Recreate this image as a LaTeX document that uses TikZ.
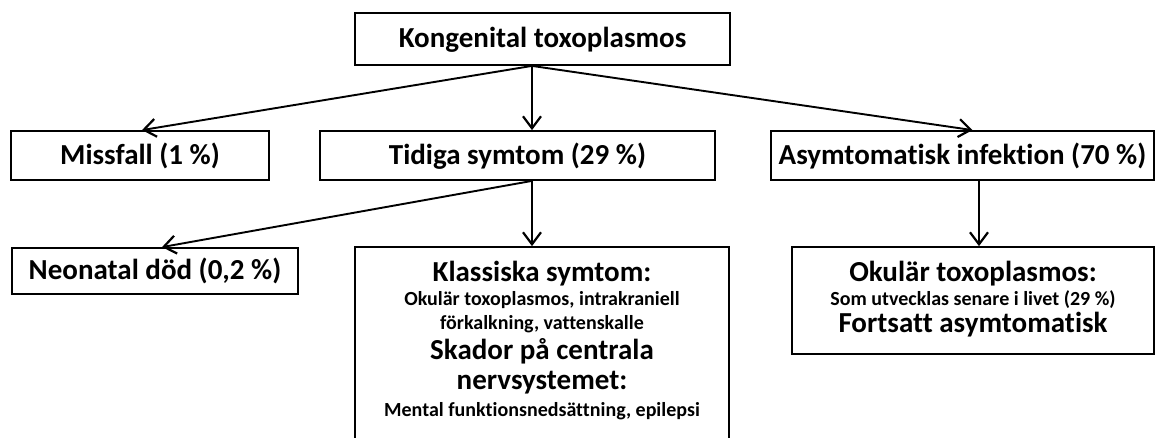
\documentclass[tikz,border=0pt]{standalone}
\usepackage{fontspec}
\setmainfont{Carlito}[Ligatures={NoCommon}]
\usetikzlibrary{arrows.meta}
\begin{document}
\begin{tikzpicture}[x=1pt,y=-1pt,
  box/.style={draw, line width=1.8pt, inner sep=0pt, text height=19pt, text depth=2pt,
    font=\bfseries\fontsize{29}{32}\selectfont},
  frame/.style={draw, line width=1.8pt, inner sep=0pt},
  big/.style={font=\bfseries\fontsize{29}{32}\selectfont, inner sep=0pt, anchor=base},
  small/.style={font=\bfseries\fontsize{20}{23}\selectfont, inner sep=0pt, anchor=base},
  arr/.style={line width=1.9pt, -{Straight Barb[length=12pt,width=18pt,line width=2.2pt]}}]
\useasboundingbox (0,0) rectangle (1158,437);
% boxes
\node[box, minimum width=375pt, minimum height=52pt] (top) at (542.5,39) {Kongenital toxoplasmos};
\node[box, minimum width=258pt, minimum height=49pt] (miss) at (140,155.5) {Missfall (1~\%)};
\node[box, minimum width=395pt, minimum height=49pt] (tid) at (517.5,155.5) {Tidiga symtom (29~\%)};
\node[box, minimum width=383pt, minimum height=49pt] (asym) at (962.5,155.5) {Asymtomatisk infektion (70~\%)};
\node[box, minimum width=286pt, minimum height=46pt] (neo) at (155,271) {Neonatal död (0,2~\%)};
\node[frame, minimum width=374pt, minimum height=223pt] (klass) at (542,358.5) {};
\node[frame, minimum width=362pt, minimum height=107pt] (okul) at (973,300.5) {};
% texts in Klassiska box
\node[big]   (k1) at (542,281) {Klassiska symtom:};
\node[small] (k2) at (542,305) {Okulär toxoplasmos, intrakraniell};
\node[small] (k3) at (542,329) {förkalkning, vattenskalle};
\node[big]   (k4) at (542,359) {Skador på centrala};
\node[big]   (k5) at (542,389) {nervsystemet:};
\node[small] (k6) at (542,416) {Mental funktionsnedsättning, epilepsi};
% texts in Okulär box
\node[big]   (o1) at (973,281) {Okulär toxoplasmos:};
\node[small] (o2) at (973,305) {Som utvecklas senare i livet (29~\%)};
\node[big]   (o3) at (973,332) {Fortsatt asymtomatisk};
% connectors
\draw[arr] ([xshift=-10.5pt]top.south) -- ([xshift=2pt]miss.north);
\draw[arr] ([xshift=-10.5pt]top.south) -- ([xshift=14.5pt]tid.north);
\draw[arr] ([xshift=-10.5pt]top.south) -- ([xshift=10pt]asym.north);
\draw[arr] ([xshift=14.5pt]tid.south) -- ([xshift=7pt]neo.north);
\draw[arr] ([xshift=14.5pt]tid.south) -- ([xshift=-10pt]klass.north);
\draw[arr] ([xshift=16.5pt]asym.south) -- ([xshift=6pt]okul.north);
\end{tikzpicture}
\end{document}
